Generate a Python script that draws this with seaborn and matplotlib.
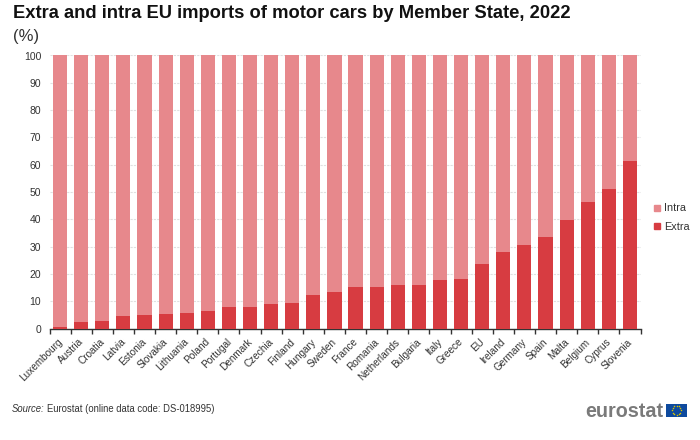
import numpy as np
import pandas as pd
import matplotlib
matplotlib.use("Agg")
import matplotlib.pyplot as plt
from matplotlib.lines import Line2D
from matplotlib.transforms import ScaledTranslation
import seaborn as sns

countries = ['Luxembourg', 'Austria', 'Croatia', 'Latvia', 'Estonia', 'Slovakia', 'Lithuania',
             'Poland', 'Portugal', 'Denmark', 'Czechia', 'Finland', 'Hungary', 'Sweden',
             'France', 'Romania', 'Netherlands', 'Bulgaria', 'Italy', 'Greece', 'EU',
             'Ireland', 'Germany', 'Spain', 'Malta', 'Belgium', 'Cyprus', 'Slovenia']
extra = [0.6, 2.2, 2.8, 4.4, 4.9, 5.2, 5.5, 6.4, 7.7, 7.8, 9.1, 9.2, 12.3, 13.2,
         15.3, 15.3, 15.9, 15.9, 17.6, 18.1, 23.7, 28.2, 30.7, 33.6, 39.7, 46.4, 51.2, 61.3]
intra = [99.4, 97.8, 97.2, 95.6, 95.1, 94.8, 94.5, 93.6, 92.3, 92.2, 90.9, 90.8, 87.7, 86.8,
         84.7, 84.7, 84.1, 84.1, 82.4, 81.9, 76.3, 71.8, 69.3, 66.4, 60.3, 53.6, 48.8, 38.7]
yticks = list(range(0, 101, 10))

extra_color = '#D73C41'
intra_color = '#E7888C'
text_color = '#333333'

sns.set_theme(style='white')
plt.rcParams['font.family'] = ['Liberation Sans', 'DejaVu Sans']

df = pd.DataFrame({'country': countries, 'extra': extra, 'intra': intra})
df['total'] = df['extra'] + df['intra']

fig = plt.figure(figsize=(7, 4.4), dpi=100)
ax = fig.add_axes([49.5 / 700, 1 - 328.5 / 440, 591 / 700, 273 / 440])

# stacked bars: total behind, extra in front
sns.barplot(data=df, x='country', y='total', color=intra_color, saturation=1, width=0.67,
            linewidth=0, ax=ax, zorder=2)
sns.barplot(data=df, x='country', y='extra', color=extra_color, saturation=1, width=0.67,
            linewidth=0, ax=ax, zorder=3)

ax.set_xlim(-0.5, len(countries) - 0.5)
ax.set_ylim(0, 100)
ax.set_xlabel(None)
ax.set_ylabel(None)
ax.set_yticks(yticks)
ax.tick_params(axis='y', length=0, labelsize=7.5, labelcolor=text_color, pad=6)
ax.tick_params(axis='x', length=0, labelsize=7.2, labelcolor=text_color, pad=6)
ax.set_xticks(np.arange(-0.5, len(countries), 1), minor=True)
ax.tick_params(axis='x', which='minor', length=3.5, width=1, color='#333333', bottom=True)
plt.setp(ax.get_xticklabels(), rotation=45, ha='right', rotation_mode='anchor')

# move the rotated labels a little to the left
shift = ScaledTranslation(-3 / 100, 0, fig.dpi_scale_trans)
for label in ax.get_xticklabels():
    label.set_transform(label.get_transform() + shift)

ax.grid(axis='y', color='#E0E0E0', linestyle=(0, (2, 1)), linewidth=0.8, zorder=0)
ax.set_axisbelow(True)
sns.despine(ax=ax, left=True, top=True, right=True)
ax.spines['bottom'].set_color('#333333')
ax.spines['bottom'].set_linewidth(1)

handles = [Line2D([], [], marker='s', linestyle='none', color=intra_color, markersize=4.5),
           Line2D([], [], marker='s', linestyle='none', color=extra_color, markersize=4.5)]
fig.legend(handles, ['Intra', 'Extra'], loc='center left', bbox_to_anchor=(652 / 700, 1 - 217.5 / 440),
           frameon=False, fontsize=7.8, labelcolor=text_color, handletextpad=0.1,
           labelspacing=0.75, borderpad=0, borderaxespad=0, handlelength=1)

fig.text(13 / 700, 1 - 14 / 440, 'Extra and intra EU imports of motor cars by Member State, 2022',
         fontsize=13.2, fontweight='bold', color='#111111', va='center', ha='left')
fig.text(13 / 700, 1 - 36 / 440, '(%)', fontsize=12, color=text_color, va='center', ha='left')
fig.text(12 / 700, 1 - 409 / 440, 'Source:', fontsize=6.85, style='italic', color=text_color, va='center', ha='left')
fig.text(47 / 700, 1 - 409 / 440, 'Eurostat (online data code: DS-018995)', fontsize=6.85, color=text_color,
         va='center', ha='left')

# eurostat logo
fig.text(585 / 700, 1 - 411 / 440, 'eurostat', fontsize=14.2, fontweight='bold', color='#7A7A7A',
         va='center', ha='left')
flag = fig.add_axes([666 / 700, 1 - 417 / 440, 21 / 700, 13.5 / 440])
flag.set_facecolor('#0E4A9E')
flag.set_xlim(-1.6, 1.6)
flag.set_ylim(-1, 1)
flag.set_xticks([])
flag.set_yticks([])
for s in flag.spines.values():
    s.set_visible(False)
angles = np.arange(12) * np.pi / 6
flag.scatter(0.68 * np.cos(angles), 0.68 * np.sin(angles), s=1.2, color='#D9C400', linewidths=0)

fig.savefig('out.png', dpi=100)
